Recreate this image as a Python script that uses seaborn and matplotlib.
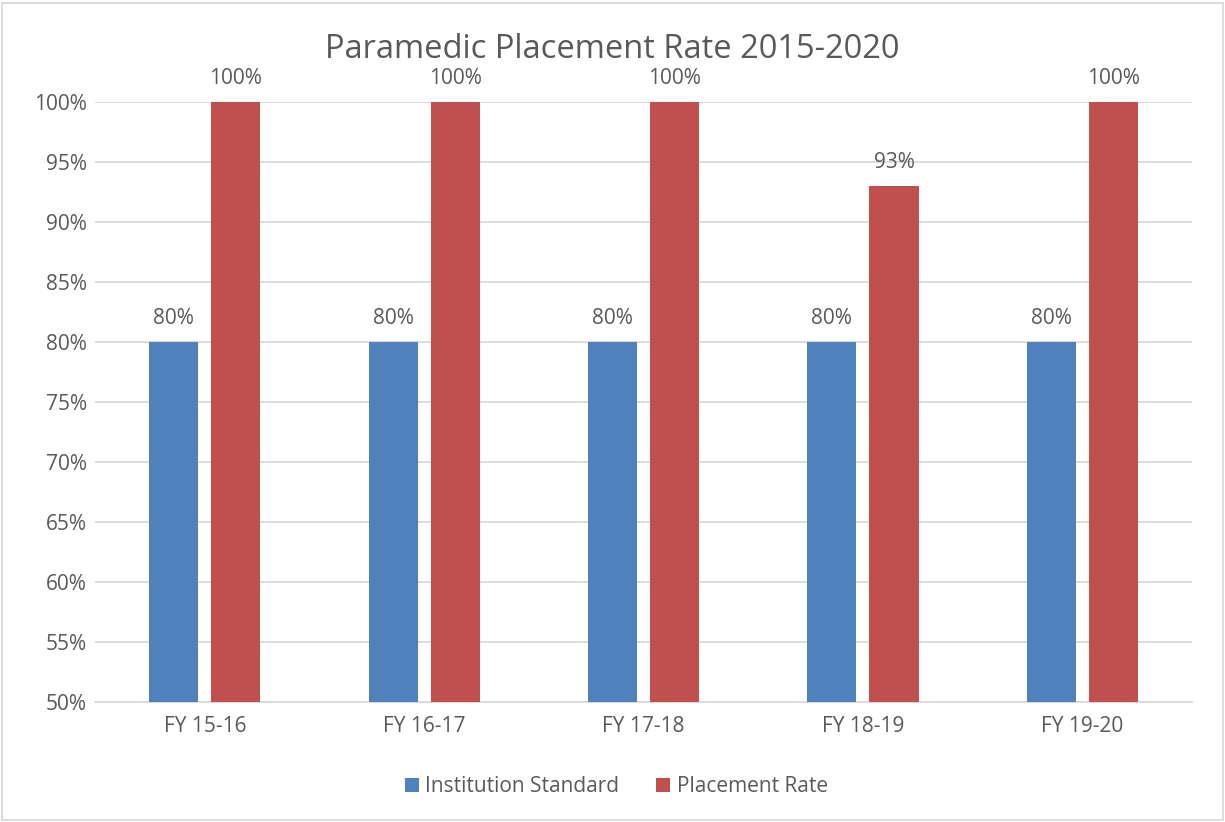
import matplotlib
matplotlib.use('Agg')
import matplotlib.pyplot as plt
import seaborn as sns
import pandas as pd
from matplotlib.patches import Rectangle
from matplotlib.ticker import FuncFormatter

# data
years = ['FY 15-16', 'FY 16-17', 'FY 17-18', 'FY 18-19', 'FY 19-20']
institution_standard = [80, 80, 80, 80, 80]
placement_rate = [100, 100, 100, 93, 100]
series_names = ['Institution Standard', 'Placement Rate']

df = pd.DataFrame({
    'year': years * 2,
    'value': institution_standard + placement_rate,
    'series': [series_names[0]] * len(years) + [series_names[1]] * len(years),
})

sns.set_style('white')
plt.rcParams['font.family'] = ['Open Sans', 'DejaVu Sans']
text_col = '#595959'
grid_col = '#D9D9D9'
palette = {'Institution Standard': '#4F81BD', 'Placement Rate': '#C0504D'}

fig = plt.figure(figsize=(12.25, 8.22), dpi=100)
ax = fig.add_axes([0.0776, 0.146, 0.8955, 0.730])

sns.barplot(data=df, x='year', y='value', hue='series', palette=palette,
            width=0.566, gap=0.21, saturation=1, linewidth=0, ax=ax, zorder=3)

ax.set_ylim(50, 100)
ax.set_xlim(-0.5, len(years) - 0.5)
ax.set_yticks(range(50, 101, 5))
ax.yaxis.set_major_formatter(FuncFormatter(lambda v, p: f'{v:.0f}%'))
ax.grid(axis='y', color=grid_col, linewidth=1.3, zorder=0)
ax.set_axisbelow(True)
for s in ['top', 'right', 'left']:
    ax.spines[s].set_visible(False)
ax.spines['bottom'].set_color(grid_col)
ax.spines['bottom'].set_linewidth(1.3)
ax.tick_params(axis='both', length=0, labelsize=15, labelcolor=text_col)
ax.tick_params(axis='x', pad=10)
ax.tick_params(axis='y', pad=6)
ax.set_xlabel('')
ax.set_ylabel('')

# value labels
for cont in ax.containers:
    ax.bar_label(cont, labels=[f'{b.get_height():.0f}%' for b in cont],
                 padding=9, fontsize=15, color=text_col, clip_on=False)

# title centred on the whole figure, like the original
fig.text(0.5, 0.940, 'Paramedic Placement Rate 2015-2020', ha='center', va='center',
         fontsize=23.5, color=text_col)

handles, labels = ax.get_legend_handles_labels()
ax.get_legend().remove()
fig.legend(handles, labels, loc='center', bbox_to_anchor=(0.503, 0.043), ncol=2,
           frameon=False, fontsize=15, labelcolor=text_col, handlelength=0.7,
           handleheight=0.7, handletextpad=0.3, columnspacing=1.75)

fig.patches.append(Rectangle((0.002, 0.002), 0.996, 0.994, transform=fig.transFigure,
                             fill=False, edgecolor=grid_col, linewidth=1.3))

fig.savefig('out.png', dpi=100)
